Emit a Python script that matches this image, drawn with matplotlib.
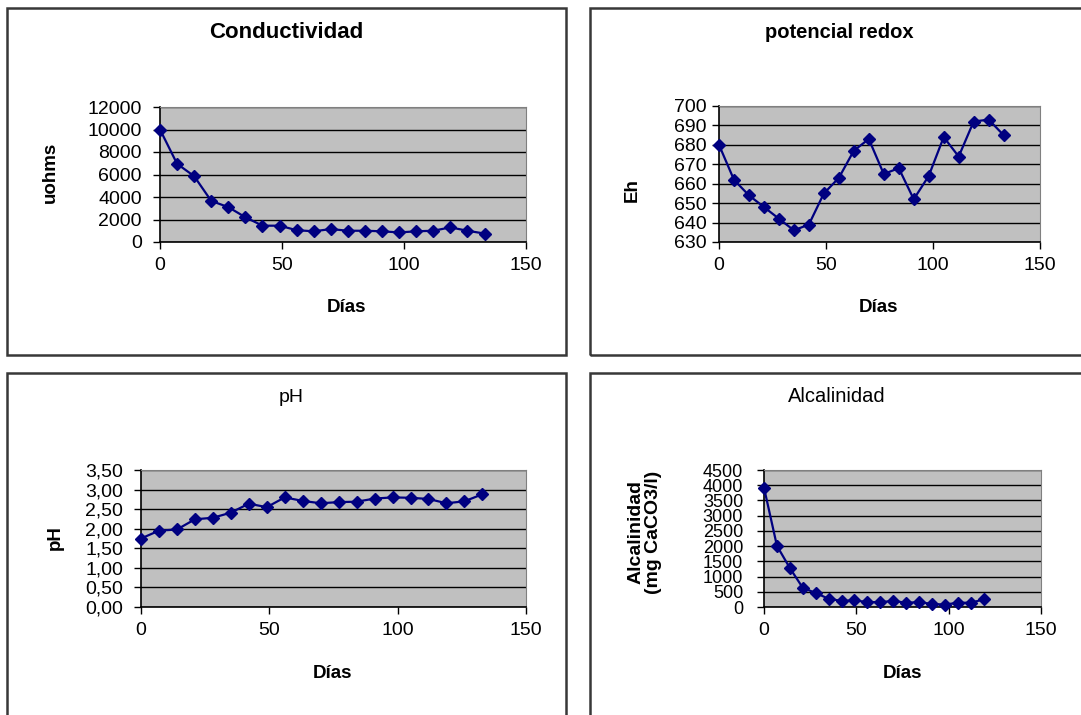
import numpy as np
import matplotlib.pyplot as plt
from matplotlib.patches import Rectangle
from matplotlib.ticker import FuncFormatter

plt.rcParams['font.family'] = ['Liberation Sans', 'DejaVu Sans']

W, H = 1081, 715

dias = [0, 7, 14, 21, 28, 35, 42, 49, 56, 63, 70, 77, 84, 91, 98, 105, 112, 119, 126, 133]
conductividad = [10000, 6950, 5850, 3650, 3100, 2200, 1450, 1450, 1050, 950, 1150, 1000,
                 1000, 950, 850, 950, 1000, 1300, 1000, 750]
redox = [680, 662, 654, 648, 642, 636, 639, 655, 663, 677, 683, 665, 668, 652, 664,
         684, 674, 692, 693, 685]
ph = [1.75, 1.95, 1.98, 2.24, 2.28, 2.41, 2.64, 2.55, 2.80, 2.71, 2.65, 2.68, 2.69, 2.77,
      2.80, 2.79, 2.76, 2.65, 2.70, 2.88]
dias_alc = dias[:18]
alcalinidad = [3920, 2010, 1280, 630, 460, 270, 200, 220, 160, 160, 200, 140, 160, 100,
               80, 140, 140, 250]

fig = plt.figure(figsize=(W / 100, H / 100), dpi=100)


def px_rect(x0, y0, x1, y1):
    return [x0 / W, 1 - y1 / H, (x1 - x0) / W, (y1 - y0) / H]


# chart area frames
for (x0, y0, x1, y1) in [(7, 8, 566, 355), (590, 8, 1090, 355),
                         (7, 373, 566, 730), (590, 373, 1090, 730)]:
    fig.patches.append(Rectangle((x0 / W, 1 - y1 / H), (x1 - x0) / W, (y1 - y0) / H,
                                 transform=fig.transFigure, fill=False,
                                 edgecolor='#383838', linewidth=1.8))


def panel(rect, x, y, ylim, ystep, fmt=None, tick_size=14, ypad=6):
    ax = fig.add_axes(px_rect(*rect))
    ax.set_facecolor('#C0C0C0')
    ax.plot(x, y, '-D', color='#000080', markersize=6, linewidth=1.6, clip_on=False, zorder=3)
    ax.set_xlim(0, 150)
    ax.set_xticks([0, 50, 100, 150])
    ax.set_ylim(*ylim)
    ax.set_yticks(np.arange(ylim[0], ylim[1] + ystep / 2, ystep))
    if fmt:
        ax.yaxis.set_major_formatter(FuncFormatter(fmt))
    ax.grid(axis='y', color='black', linewidth=1)
    ax.set_axisbelow(True)
    for s in ['top', 'right']:
        ax.spines[s].set_color('#808080')
    for s in ['left', 'bottom']:
        ax.spines[s].set_color('black')
        ax.spines[s].set_linewidth(1.2)
    ax.tick_params(direction='out', length=5, width=1, labelsize=14)
    ax.tick_params(axis='y', labelsize=tick_size, pad=ypad)
    ax.tick_params(axis='x', pad=6)
    return ax


ax1 = panel((160, 107, 526, 242), dias, conductividad, (0, 12000), 2000, ypad=8)
ax2 = panel((719, 106, 1040, 242), dias, redox, (630, 700), 10, ypad=4)
ax3 = panel((141, 470, 526, 607), dias, ph, (0, 3.5), 0.5,
            fmt=lambda v, p: '{:.2f}'.format(v).replace('.', ','), ypad=8)
ax4 = panel((764, 470, 1041, 607), dias_alc, alcalinidad, (0, 4500), 500, tick_size=13, ypad=10)

fig.text(286 / W, 1 - 32 / H, 'Conductividad', ha='center', va='center', fontsize=16, fontweight='bold')
fig.text(839 / W, 1 - 32 / H, 'potencial redox', ha='center', va='center', fontsize=14.5, fontweight='bold')
fig.text(291 / W, 1 - 397 / H, 'pH', ha='center', va='center', fontsize=14)
fig.text(837 / W, 1 - 397 / H, 'Alcalinidad', ha='center', va='center', fontsize=14.5)

for xc, yc in [(346, 308), (879, 308), (333, 673), (903, 673)]:
    fig.text(xc / W, 1 - yc / H, 'Días', ha='center', va='center', fontsize=13.5, fontweight='bold')

fig.text(50 / W, 1 - 172 / H, 'uohms', ha='center', va='center', rotation=90, fontsize=13.5, fontweight='bold')
fig.text(632 / W, 1 - 190 / H, 'Eh', ha='center', va='center', rotation=90, fontsize=13.5, fontweight='bold')
fig.text(55 / W, 1 - 538 / H, 'pH', ha='center', va='center', rotation=90, fontsize=13.5, fontweight='bold')
fig.text(645 / W, 1 - 532 / H, 'Alcalinidad\n(mg CaCO3/l)', ha='center', va='center', rotation=90,
         fontsize=14, fontweight='bold', linespacing=1.05)

fig.savefig('out.png', dpi=100)
